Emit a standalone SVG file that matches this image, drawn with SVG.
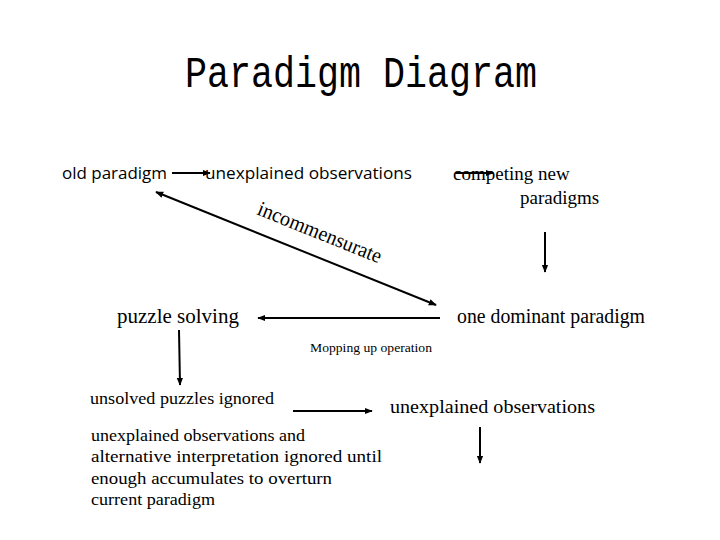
<svg xmlns="http://www.w3.org/2000/svg" width="720" height="540" viewBox="0 0 720 540">
<defs>
<marker id="ah" viewBox="0 0 10 10" refX="9" refY="5" markerWidth="8" markerHeight="8" orient="auto-start-reverse" markerUnits="userSpaceOnUse">
<path d="M0,1 L10,5 L0,9 z" fill="#000"/>
</marker>
<style>
.t{font-family:"Liberation Serif","Times New Roman",serif;fill:#000}
.s{font-family:"Open Sans","Liberation Sans",sans-serif;fill:#000}
.ln{stroke:#000;stroke-width:2;fill:none}
</style>
</defs>
<rect width="720" height="540" fill="#fff"/>
<text x="361" y="87" font-family="'Liberation Mono','Noto Sans CJK JP',monospace" font-size="44" text-anchor="middle" textLength="352" lengthAdjust="spacingAndGlyphs">Paradigm Diagram</text>
<g id="connectors">
<line class="ln" x1="172" y1="173" x2="210" y2="173" marker-end="url(#ah)"/>
<line class="ln" x1="455" y1="173" x2="493" y2="173" marker-end="url(#ah)"/>
<line class="ln" x1="156" y1="192" x2="436" y2="305" marker-start="url(#ah)" marker-end="url(#ah)"/>
<line class="ln" x1="545" y1="232" x2="545" y2="272" marker-end="url(#ah)"/>
<line class="ln" x1="440" y1="318" x2="258" y2="318" marker-end="url(#ah)"/>
<line class="ln" x1="179" y1="330" x2="180" y2="385" marker-end="url(#ah)"/>
<line class="ln" x1="293" y1="411" x2="372" y2="411" marker-end="url(#ah)"/>
<line class="ln" x1="480" y1="427" x2="480" y2="463" marker-end="url(#ah)"/>
<text class="t" font-size="21" transform="translate(256,214) rotate(22)" textLength="132" lengthAdjust="spacingAndGlyphs">incommensurate</text>
<text class="t" font-size="13" x="310" y="352" textLength="122" lengthAdjust="spacingAndGlyphs">Mopping up operation</text>
</g>
<g id="n-old"><text class="s" font-size="17" x="62" y="179" textLength="105" lengthAdjust="spacingAndGlyphs">old paradigm</text></g>
<g id="n-unexp1"><text class="s" font-size="17" x="205" y="179" textLength="207" lengthAdjust="spacingAndGlyphs">unexplained observations</text></g>
<g id="n-competing">
<text class="t" font-size="19" x="453" y="180">competing new</text>
<text class="t" font-size="19" x="520" y="204">paradigms</text>
</g>
<g id="n-puzzle"><text class="t" font-size="21" x="117" y="323">puzzle solving</text></g>
<g id="n-dominant"><text class="t" font-size="20" x="457" y="323" textLength="188" lengthAdjust="spacingAndGlyphs">one dominant paradigm</text></g>
<g id="n-unsolved"><text class="t" font-size="17" x="90" y="404" textLength="184" lengthAdjust="spacingAndGlyphs">unsolved puzzles ignored</text></g>
<g id="n-unexp2"><text class="t" font-size="19" x="390" y="413" textLength="205" lengthAdjust="spacingAndGlyphs">unexplained observations</text></g>
<g id="n-para">
<text class="t" font-size="17.5" x="91" y="441" textLength="214" lengthAdjust="spacingAndGlyphs">unexplained observations and</text>
<text class="t" font-size="17.5" x="91" y="462" textLength="291" lengthAdjust="spacingAndGlyphs">alternative interpretation ignored until</text>
<text class="t" font-size="17.5" x="91" y="484" textLength="241" lengthAdjust="spacingAndGlyphs">enough accumulates to overturn</text>
<text class="t" font-size="17.5" x="91" y="505" textLength="124" lengthAdjust="spacingAndGlyphs">current paradigm</text>
</g>
</svg>
